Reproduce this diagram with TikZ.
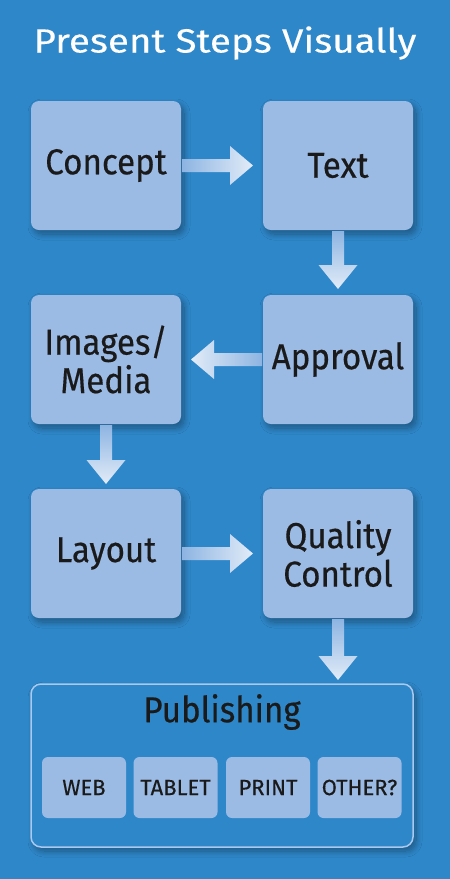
\documentclass[tikz,border=0pt]{standalone}
\usepackage{fontspec}
\setmainfont{Fira Sans}
\newfontfamily\boxfont[FakeStretch=0.92,FakeBold=0.4]{Fira Sans}
\newfontfamily\subfont[FakeBold=0.3]{Fira Sans}
\newfontfamily\titlefont[FakeStretch=1.15,FakeBold=0.3]{Fira Sans}
\usetikzlibrary{calc,shadows.blur}
\definecolor{bg}{HTML}{2E87C9}
\definecolor{boxfill}{HTML}{9BBBE5}
\definecolor{txt}{HTML}{1A1A1A}
\definecolor{arrlight}{HTML}{E2ECF8}
\definecolor{arrdark}{HTML}{8DB4E2}
\definecolor{pubborder}{HTML}{A9C9EE}
\begin{document}
\begin{tikzpicture}[x=1pt,y=-1pt,
  myshadow/.style={blur shadow={shadow xshift=3pt,shadow yshift=-4pt,shadow blur steps=12,shadow blur radius=6pt,shadow opacity=35}},
  stepbox/.style={fill=boxfill,rounded corners=8pt,minimum width=150pt,minimum height=129pt,
    align=center,text=txt,inner sep=0pt,outer sep=0pt,
    font=\boxfont\fontsize{36}{38.5}\selectfont,myshadow},
  subbox/.style={fill=boxfill,rounded corners=6pt,minimum width=84pt,minimum height=61pt,
    text=txt,inner sep=0pt,outer sep=0pt,font=\subfont\fontsize{22}{24}\selectfont},
  pubbox/.style={draw=pubborder,line width=1.5pt,fill=bg,rounded corners=10pt,
    minimum width=382pt,minimum height=163pt,inner sep=0pt,outer sep=0pt,myshadow},
  titletext/.style={text=white,font=\titlefont\fontsize{33.5}{36}\selectfont,inner sep=0pt}
]
\fill[bg] (0,0) rectangle (450,879);
\useasboundingbox (0,0) rectangle (450,879);

\node[titletext] (title) at (225,43) {Present Steps Visually};

\node[stepbox] (concept) at (106,165.5) {Concept};
\node[stepbox] (text) at (338,165.5) {Text};
\node[stepbox] (images) at (106,359.5) {Images/\\Media};
\node[stepbox] (approval) at (338,359.5) {Approval};
\node[stepbox] (layout) at (106,553.5) {Layout};
\node[stepbox] (qc) at (338,553.5) {Quality\\Control};

\node[pubbox] (pub) at (222,765.5) {};
\node[text=txt,font=\boxfont\fontsize{36}{38}\selectfont,inner sep=0pt] (pubtitle) at (222,712) {Publishing};
\node[subbox] (web) at (84,787.5) {WEB};
\node[subbox] (tablet) at (175.5,787.5) {TABLET};
\node[subbox] (print) at (268,787.5) {PRINT};
\node[subbox] (other) at (359.5,787.5) {OTHER?};

% right arrows
\shade[left color=arrdark,right color=arrlight]
  ($(concept.east)+(1,-6.5)$) -- ($(text.west)+(-33,-6.5)$) -- ($(text.west)+(-33,-19.5)$)
  -- ($(text.west)+(-10,0)$) -- ($(text.west)+(-33,19.5)$) -- ($(text.west)+(-33,6.5)$)
  -- ($(concept.east)+(1,6.5)$) -- cycle;
\shade[left color=arrdark,right color=arrlight]
  ($(layout.east)+(1,-6.5)$) -- ($(qc.west)+(-33,-6.5)$) -- ($(qc.west)+(-33,-19.5)$)
  -- ($(qc.west)+(-10,0)$) -- ($(qc.west)+(-33,19.5)$) -- ($(qc.west)+(-33,6.5)$)
  -- ($(layout.east)+(1,6.5)$) -- cycle;
% left arrow
\shade[right color=arrdark,left color=arrlight]
  ($(approval.west)+(-1,-6.5)$) -- ($(images.east)+(33,-6.5)$) -- ($(images.east)+(33,-19.5)$)
  -- ($(images.east)+(10,0)$) -- ($(images.east)+(33,19.5)$) -- ($(images.east)+(33,6.5)$)
  -- ($(approval.west)+(-1,6.5)$) -- cycle;
% down arrows
\shade[top color=arrdark,bottom color=arrlight]
  ($(text.south)+(-6,1)$) -- ($(approval.north)+(-6,-30)$) -- ($(approval.north)+(-19.5,-30)$)
  -- ($(approval.north)+(0,-6)$) -- ($(approval.north)+(19.5,-30)$) -- ($(approval.north)+(6,-30)$)
  -- ($(text.south)+(6,1)$) -- cycle;
\shade[top color=arrdark,bottom color=arrlight]
  ($(images.south)+(-6,1)$) -- ($(layout.north)+(-6,-29)$) -- ($(layout.north)+(-19.5,-29)$)
  -- ($(layout.north)+(0,-5)$) -- ($(layout.north)+(19.5,-29)$) -- ($(layout.north)+(6,-29)$)
  -- ($(images.south)+(6,1)$) -- cycle;
\shade[top color=arrdark,bottom color=arrlight]
  ($(qc.south)+(-6,1)$) -- ($(pub.north)+(110,-28)$) -- ($(pub.north)+(96.5,-28)$)
  -- ($(pub.north)+(116,-4)$) -- ($(pub.north)+(135.5,-28)$) -- ($(pub.north)+(122,-28)$)
  -- ($(qc.south)+(6,1)$) -- cycle;
\end{tikzpicture}
\end{document}
